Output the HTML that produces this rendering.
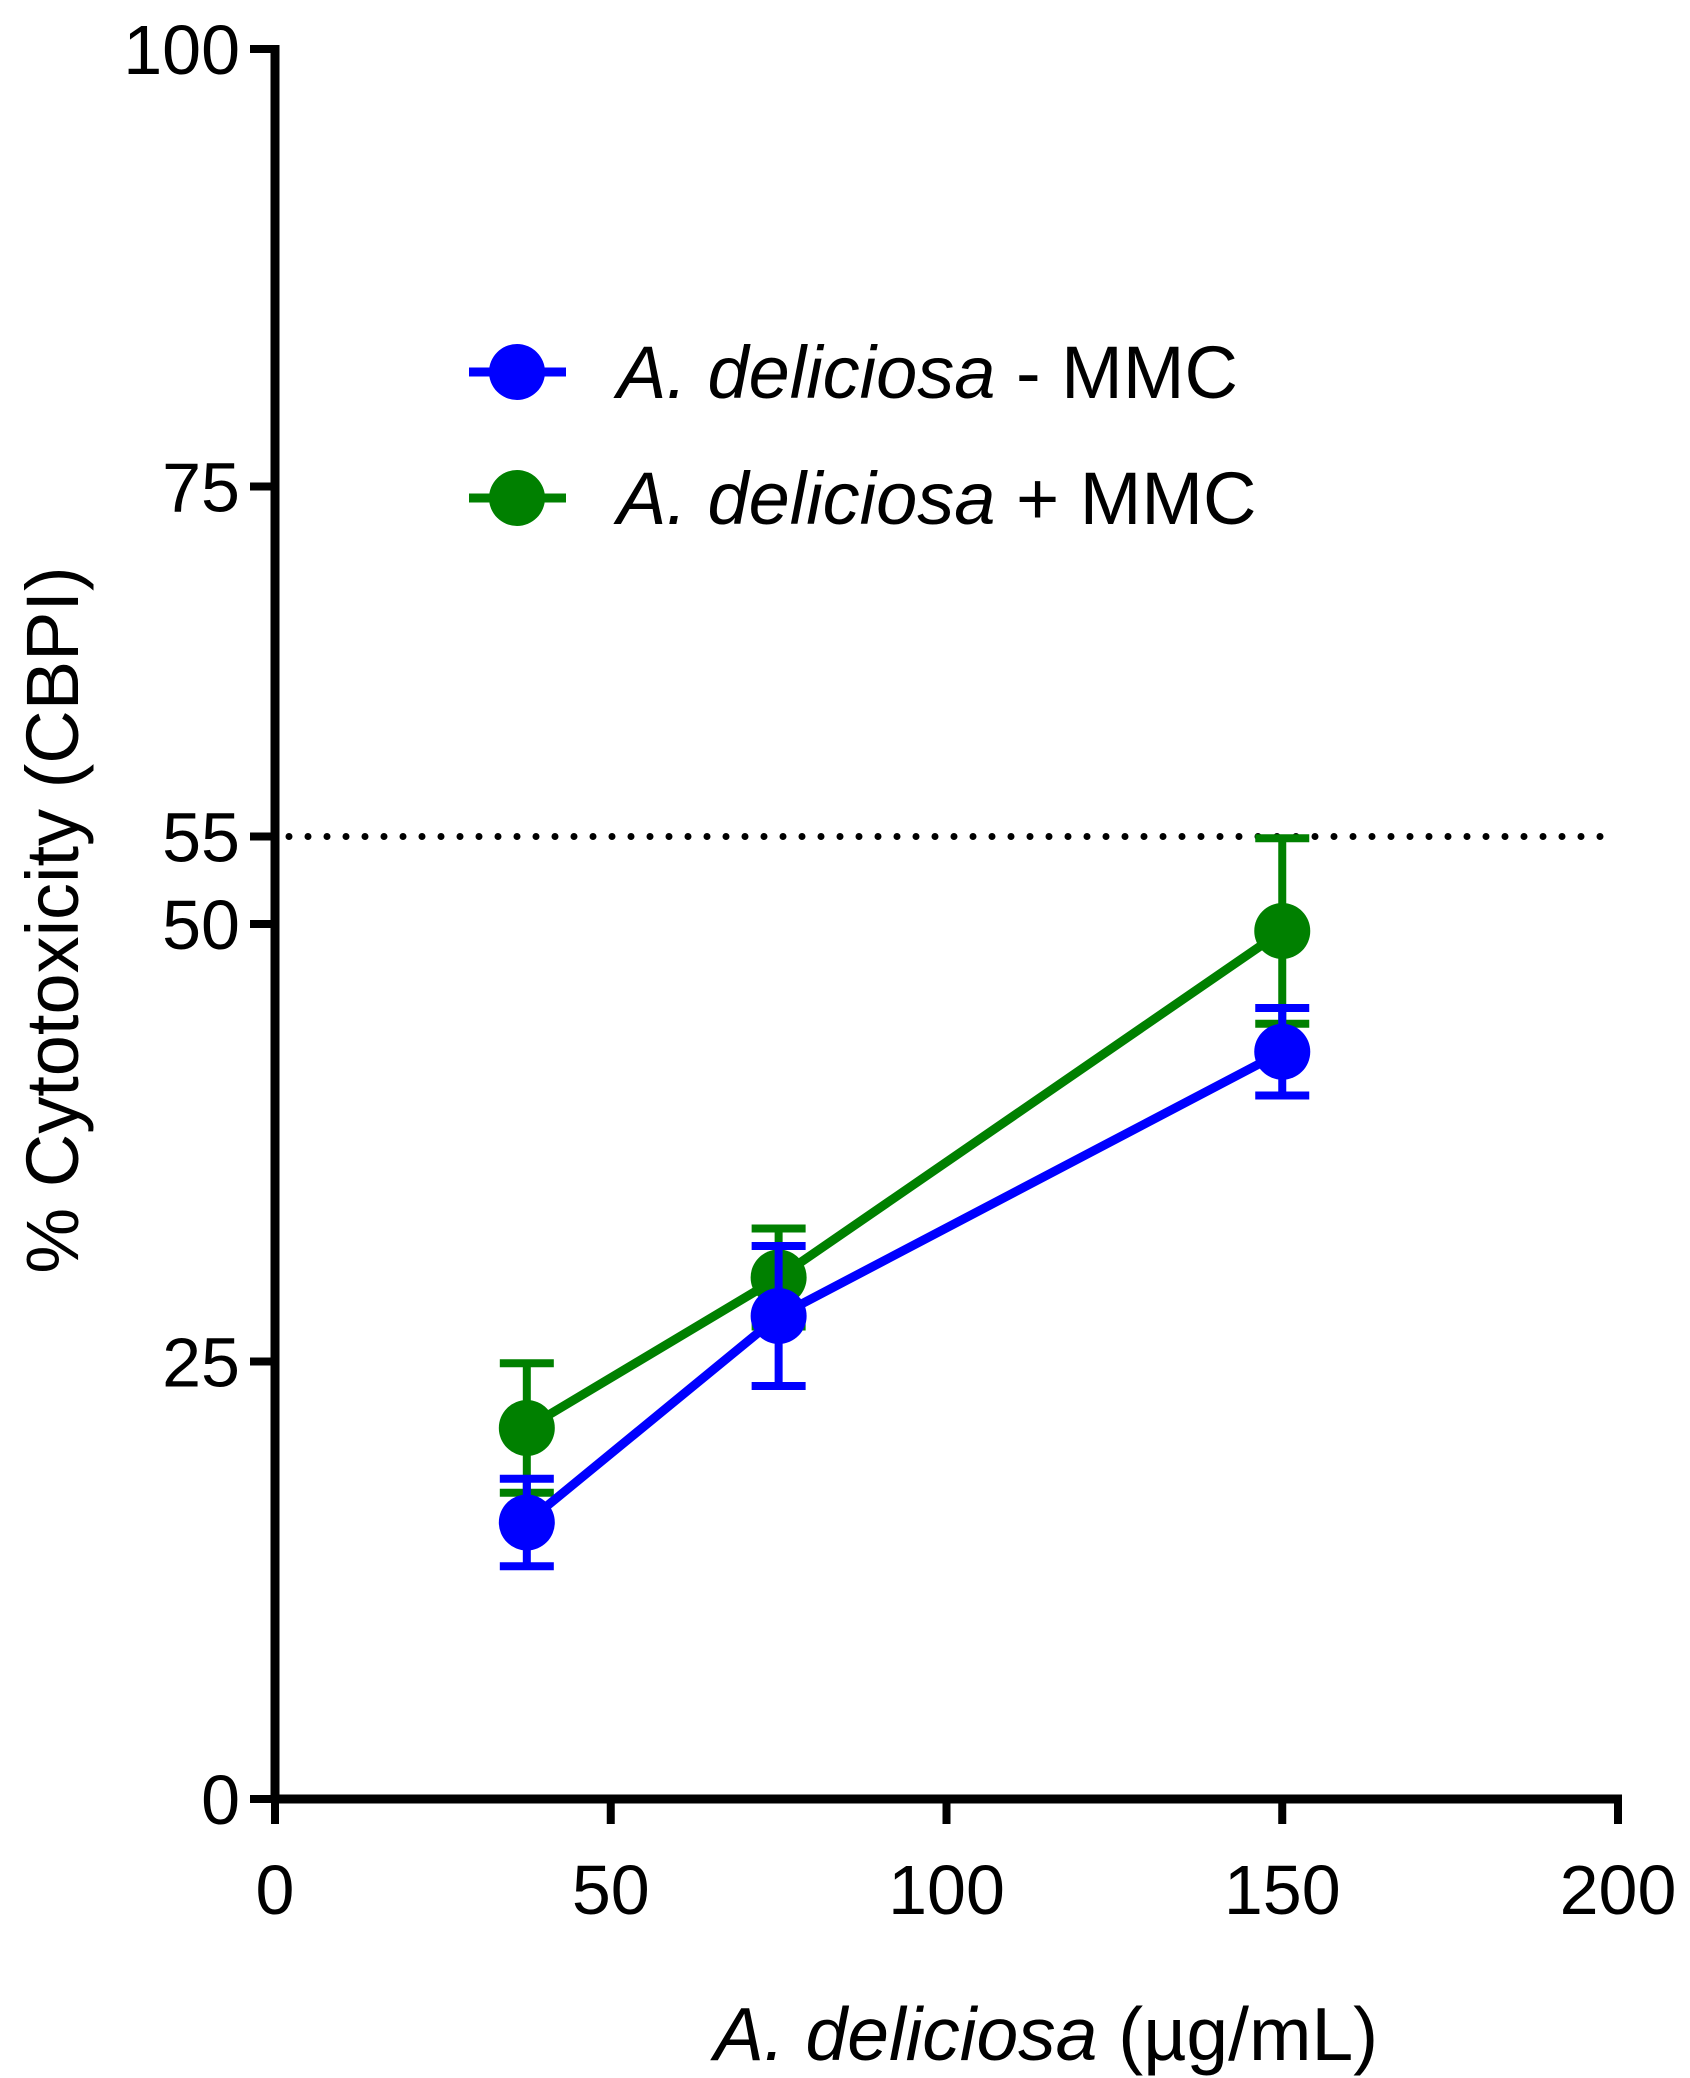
<!DOCTYPE html>
<html><head><meta charset="utf-8"><style>
html,body{margin:0;padding:0;background:#fff;}
svg{display:block;font-family:"Liberation Sans",Arial,sans-serif;}
</style></head><body>
<svg id="chart" width="1690" height="2078" viewBox="0 0 1690 2078">
<g id="axes"></g><g id="marks"></g>
<g>
 <line x1="469" y1="372" x2="566" y2="372" stroke="#0000ff" stroke-width="9"/>
 <circle cx="517" cy="372" r="28" fill="#0000ff"/>
 <text x="617" y="398" font-size="74"><tspan font-style="italic">A. deliciosa</tspan> - MMC</text>
 <line x1="469" y1="498" x2="566" y2="498" stroke="#008000" stroke-width="9"/>
 <circle cx="517" cy="498" r="28" fill="#008000"/>
 <text x="617" y="524" font-size="74"><tspan font-style="italic">A. deliciosa</tspan> + MMC</text>
</g>
<text transform="translate(78,920) rotate(-90)" text-anchor="middle" font-size="74">% Cytotoxicity (CBPI)</text>
<text x="1046" y="2060" text-anchor="middle" font-size="75"><tspan font-style="italic">A. deliciosa</tspan> (µg/mL)</text>
</svg>
<script>
const xCats=[37.5,75,150];
const blueVals=[15.8,27.6,42.7];
const blueErr=[2.5,4.0,2.5];
const greenVals=[21.2,29.8,49.6];
const greenErr=[3.7,2.8,5.3];
const yTicks=[0,25,50,55,75,100];
const xTicks=[0,50,100,150,200];
const threshold=55;
const NS="http://www.w3.org/2000/svg";
const X=v=>275+v*(1618-275)/200;
const Y=v=>1799-v*(1799-49)/100;
function mk(tag,attrs,parent){const e=document.createElementNS(NS,tag);for(const k in attrs)e.setAttribute(k,attrs[k]);parent.appendChild(e);return e;}
const axes=document.getElementById('axes'),marks=document.getElementById('marks');
let e=mk('line',{x1:275,y1:Y(100)-4,x2:275,y2:1803,stroke:'#000','stroke-width':9},axes);


e=mk('line',{x1:271,y1:1799,x2:X(200)+4,y2:1799,stroke:'#000','stroke-width':9},axes);


yTicks.forEach(t=>{
 mk('line',{x1:250,y1:Y(t),x2:275,y2:Y(t),stroke:'#000','stroke-width':8},axes);
 const tx=mk('text',{x:240,y:Y(t)+25,'text-anchor':'end','font-size':70},axes);
 tx.textContent=t;
 
 
});
xTicks.forEach(t=>{
 mk('line',{x1:X(t),y1:1799,x2:X(t),y2:1824,stroke:'#000','stroke-width':8},axes);
 const tx=mk('text',{x:X(t),y:1914,'text-anchor':'middle','font-size':70},axes);
 tx.textContent=t;
 
 
});
e=mk('line',{x1:X(0)+14,y1:Y(threshold),x2:X(200)-4,y2:Y(threshold),stroke:'#000','stroke-width':7,'stroke-dasharray':'0 19','stroke-linecap':'round'},marks);


function series(vals,errs,color,name){
 const pts=xCats.map((c,i)=>X(c)+','+Y(vals[i])).join(' ');
 const l=mk('polyline',{points:pts,fill:'none',stroke:color,'stroke-width':9},marks);
 
 
 xCats.forEach((c,i)=>{
  const x=X(c),lo=Y(vals[i]-errs[i]),hi=Y(vals[i]+errs[i]);
  const g=mk('g',{},marks);
  
  
  mk('line',{x1:x,y1:lo,x2:x,y2:hi,stroke:color,'stroke-width':8},g);
  mk('line',{x1:x-27,y1:hi,x2:x+27,y2:hi,stroke:color,'stroke-width':8},g);
  mk('line',{x1:x-27,y1:lo,x2:x+27,y2:lo,stroke:color,'stroke-width':8},g);
 });
 xCats.forEach((c,i)=>{
  const p=mk('circle',{cx:X(c),cy:Y(vals[i]),r:28,fill:color},marks);
  
  
 });
}
series(greenVals,greenErr,'#008000','plus-mmc');
series(blueVals,blueErr,'#0000ff','minus-mmc');
</script>
</body></html>
